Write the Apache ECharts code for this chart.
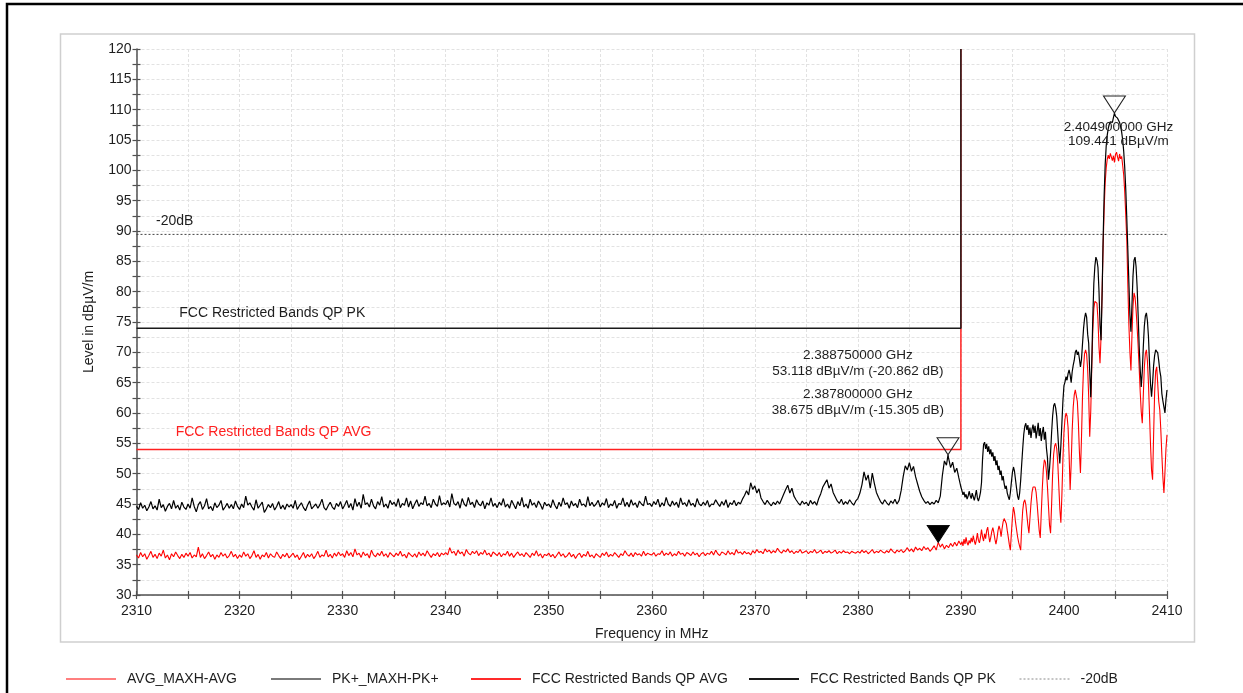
<!DOCTYPE html>
<html>
<head>
<meta charset="utf-8">
<title>Restricted band edge emissions 2310-2410 MHz</title>
<script src="https://cdn.jsdelivr.net/npm/echarts@6/dist/echarts.min.js"></script>
<style>
  html, body { margin: 0; padding: 0; background: #fff; }
  #chart { width: 1243px; height: 693px; }
</style>
</head>
<body>
<div id="chart"></div>
<script>
// Sweep grids: coarse part up to the band edge, fine part across the carrier.
const lowStart = 2310, lowStep = 0.2;    // 2310.0 ... 2390.0 (401 points)
const highStart = 2390.1, highStep = 0.1; // 2390.1 ... 2410.0 (200 points)

// PK+ max-hold trace, dBµV/m
const pkLow = [
  44.6,44.1,45.2,44.3,44.8,43.9,44.5,45.4,44.2,44.7,44.0,45.8,44.4,44.9,43.8,44.6,45.1,44.2,45.6,44.3,44.8,44.0,45.3,44.5,44.1,
  45.0,44.3,46.0,44.6,43.7,44.9,45.4,44.1,44.7,45.9,44.2,44.6,43.9,45.2,44.4,44.8,45.6,44.0,44.5,45.1,44.3,44.9,44.2,45.5,44.6,
  44.1,45.0,44.4,46.3,44.8,45.2,44.5,44.0,45.7,44.3,44.8,45.3,43.6,44.2,44.9,44.4,45.1,44.0,44.6,45.4,44.2,44.8,44.1,45.0,44.5,
  44.9,44.3,45.6,44.1,44.7,45.2,44.4,43.9,44.8,45.5,44.2,44.6,45.0,44.3,44.9,45.8,44.4,44.0,44.7,45.3,44.5,44.1,45.1,44.6,45.4,
  44.2,44.8,45.6,44.4,45.1,44.0,45.9,44.6,45.3,44.3,46.6,44.9,45.2,44.5,45.8,44.7,44.2,45.4,44.8,46.2,44.5,45.0,44.3,45.6,44.9,
  45.3,44.6,45.9,44.4,45.1,44.8,46.0,44.5,45.5,44.2,45.0,45.7,44.6,45.2,44.9,46.3,44.7,45.1,44.4,45.8,45.0,44.6,46.4,44.8,45.2,
  44.9,45.6,44.5,46.7,45.1,44.8,45.4,44.3,45.9,45.0,44.6,46.1,44.9,45.3,44.4,45.7,45.0,44.7,45.5,44.2,45.2,44.8,46.0,44.6,45.1,
  44.4,45.3,44.8,45.9,44.5,45.0,44.3,45.6,44.9,44.2,45.4,44.7,46.1,44.5,45.0,44.3,45.8,44.8,45.2,44.4,45.5,44.9,44.1,45.3,44.7,
  45.0,44.4,45.7,44.8,44.2,45.3,44.6,46.0,44.9,45.2,44.3,45.5,44.7,45.1,44.4,45.8,44.8,45.0,44.5,46.2,44.7,45.3,44.6,45.0,45.6,
  44.5,45.2,44.8,45.9,44.4,45.0,44.7,45.6,44.3,45.1,44.9,46.0,44.6,45.3,44.5,45.7,44.8,45.2,44.4,45.5,45.0,44.7,46.3,44.9,45.1,
  44.6,45.4,44.9,45.8,44.5,45.2,44.7,46.1,45.0,44.6,45.5,44.8,45.3,44.4,46.0,44.9,45.2,44.6,45.7,44.8,45.1,44.5,45.9,45.0,44.7,
  45.3,44.8,45.6,44.5,45.0,44.9,45.7,45.1,44.6,45.4,44.8,45.7,44.4,45.2,44.9,45.6,44.7,45.3,45.0,45.8,46.4,47.2,46.5,48.5,47.4,
  48.0,46.8,47.5,46.0,45.4,44.9,45.6,45.1,44.7,45.3,44.9,45.5,45.0,45.8,46.6,47.4,48.1,46.8,47.6,46.3,45.7,45.2,44.8,45.5,45.0,
  45.3,44.7,45.6,45.0,45.4,44.8,45.9,46.7,47.8,48.4,49.0,47.6,48.3,46.9,46.2,45.5,45.1,45.8,44.9,45.4,45.0,45.7,45.2,44.8,45.5,
  45.9,46.8,48.2,50.3,48.9,49.8,47.6,50.1,48.4,46.9,46.1,45.4,45.0,45.7,45.2,44.8,45.5,45.1,45.8,45.0,45.6,47.2,49.5,51.3,50.6,
  51.8,50.4,51.2,49.5,48.3,47.1,46.2,45.6,45.1,45.4,44.9,45.3,45.0,45.6,45.2,46.3,49.7,52.1,51.4,52.6,51.0,51.9,50.2,50.9,49.3,
  47.8
];
const pkHigh = [
  47.2,46.5,47.0,46.1,46.6,45.8,46.3,47.1,46.4,45.9,
  46.8,46.2,45.6,46.4,47.3,46.0,45.5,46.1,46.9,48.5,
  52.4,54.8,55.2,54.1,54.9,53.6,54.5,53.2,54.0,52.8,
  53.5,52.1,52.9,51.4,52.2,50.6,51.3,49.8,50.5,48.9,
  49.6,48.3,47.5,48.0,46.8,46.2,45.7,46.9,48.6,50.2,
  51.1,50.4,49.0,47.6,46.3,45.7,46.8,48.9,51.6,54.2,
  56.5,57.8,58.3,57.2,58.0,56.4,57.6,55.9,57.3,58.1,
  56.7,57.9,55.8,57.0,58.4,56.2,57.5,55.4,56.8,57.7,
  55.6,56.9,54.2,52.6,49.0,50.8,53.4,56.7,59.5,61.2,
  61.6,60.8,59.4,56.7,53.9,51.7,54.6,58.3,62.0,64.5,
  65.1,66.0,65.4,66.5,67.1,66.3,65.0,66.8,67.9,68.7,
  70.0,70.4,69.6,70.1,68.9,67.6,68.8,71.4,73.9,75.6,
  76.5,75.8,73.0,71.5,66.8,62.6,68.5,75.8,81.4,84.2,
  85.7,85.2,84.0,80.1,74.5,72.0,79.3,88.6,95.8,100.9,
  104.0,105.8,106.9,107.6,108.0,108.3,107.9,108.7,109.441,108.9,
  109.1,108.6,108.8,107.9,107.2,106.3,105.0,103.1,100.4,96.8,
  92.0,86.9,81.5,76.2,73.4,77.8,82.6,85.2,85.7,84.1,
  80.8,76.1,71.0,67.2,64.3,66.8,70.9,74.3,76.0,76.5,
  75.2,72.6,68.4,64.8,62.7,64.9,67.8,69.5,70.4,70.7,
  69.9,68.6,67.0,66.0,63.2,62.0,61.0,60.0,62.2,63.8
];

// AVG max-hold trace, dBµV/m
const avgLow = [
  36.6,36.1,37.0,36.3,36.8,35.9,36.5,37.2,36.2,36.7,36.0,36.9,36.4,37.4,36.1,36.6,35.8,36.8,36.3,37.1,36.5,36.0,36.7,36.2,36.9,
  36.4,37.0,36.1,36.6,36.3,37.9,36.2,36.8,36.0,36.5,37.1,36.3,36.7,35.9,36.6,36.2,37.0,36.4,36.8,36.1,36.5,37.2,36.3,36.7,36.0,
  36.6,36.2,37.1,36.4,36.8,36.0,36.5,37.3,36.2,36.7,35.9,36.6,36.3,37.0,36.1,36.8,36.4,36.2,37.1,36.5,36.0,36.7,36.3,36.9,36.1,
  36.5,36.9,36.2,36.6,35.8,36.4,37.0,36.1,36.7,36.3,36.8,36.0,36.5,37.2,36.2,36.6,36.4,37.4,36.3,36.7,36.1,36.9,36.4,37.1,36.5,
  36.8,36.2,37.3,36.5,37.0,36.3,37.6,36.6,36.9,36.2,37.1,36.5,36.8,36.1,37.4,36.6,36.3,36.9,36.5,37.2,36.4,36.8,36.2,37.0,36.6,
  36.3,36.9,36.5,37.2,36.4,36.7,36.1,37.0,36.6,36.3,36.8,36.2,37.1,36.5,36.9,36.4,37.3,36.7,36.2,36.8,36.5,37.0,36.3,36.9,36.6,
  37.0,36.6,37.8,36.9,37.2,36.5,37.4,36.8,37.1,36.4,37.5,36.9,36.6,37.2,36.8,37.3,36.5,37.0,36.7,37.4,36.6,36.9,36.3,37.1,36.8,
  36.5,37.0,36.3,36.8,36.6,37.2,36.4,36.9,36.2,36.7,37.1,36.5,36.8,36.3,37.0,36.6,36.2,36.9,36.5,37.3,36.4,36.8,36.1,36.7,36.5,
  36.9,36.3,36.7,36.1,36.6,37.1,36.4,36.8,36.2,36.5,37.0,36.3,36.7,36.0,36.6,36.9,36.2,36.7,36.4,37.2,36.3,36.6,36.1,36.8,36.5,
  36.2,36.9,36.5,37.1,36.3,36.7,36.4,37.0,36.6,36.2,36.8,36.5,37.3,36.7,36.4,36.9,36.3,37.0,36.6,36.8,36.4,37.2,36.5,36.9,36.7,
  36.6,37.0,36.4,36.8,36.7,37.3,36.5,36.9,36.6,37.1,36.4,36.8,36.5,37.2,36.7,36.9,36.4,37.0,36.8,36.5,37.1,36.6,36.9,36.3,36.8,
  37.0,36.5,36.9,36.7,37.2,36.6,37.4,36.8,36.5,37.1,36.9,36.6,37.3,36.7,37.0,36.6,37.5,36.9,37.1,36.7,37.2,36.8,37.0,36.6,37.3,
  36.9,37.5,37.0,37.2,36.8,37.6,37.1,37.4,36.9,37.3,37.0,37.7,37.2,36.9,37.4,37.1,37.6,37.0,37.3,36.8,37.2,37.0,37.5,36.9,37.1,
  37.3,36.8,37.2,37.0,37.5,36.9,37.1,37.4,36.8,37.2,37.0,37.3,36.9,37.1,37.4,36.8,37.2,36.9,37.3,37.0,37.1,36.8,37.2,37.0,36.9,
  37.2,36.9,37.4,37.0,37.3,36.8,37.1,37.5,36.9,37.2,37.0,37.4,37.1,36.9,37.3,37.0,37.6,37.2,36.9,37.4,37.1,37.5,37.0,37.3,37.8,
  37.2,37.6,37.1,37.9,37.4,37.7,37.3,38.0,37.5,37.8,37.2,37.6,38.1,37.4,38.675,37.9,38.4,37.6,38.2,37.8,38.5,38.0,38.7,38.1,38.9,
  38.3
];
const avgHigh = [
  38.8,38.1,39.2,38.4,39.5,38.6,38.2,39.0,38.5,39.4,
  38.7,39.8,38.9,38.3,39.1,40.2,39.0,38.6,39.5,40.8,
  39.6,38.9,40.1,39.3,40.6,41.2,39.8,38.7,39.5,40.5,
  41.1,40.3,39.2,38.4,39.3,40.6,41.4,40.8,39.6,41.0,
  42.1,42.6,42.9,41.8,40.6,39.5,38.3,37.4,40.2,42.8,
  44.5,43.6,42.0,40.8,39.6,38.7,38.0,37.4,41.2,44.0,
  45.3,45.7,44.9,43.2,41.5,40.2,42.6,45.1,46.9,47.8,
  47.6,47.8,46.9,45.0,42.7,40.6,39.4,43.5,47.6,50.8,
  52.3,51.9,50.4,47.8,44.6,41.5,40.2,44.8,49.9,53.2,
  54.6,55.0,54.1,51.8,48.0,44.2,41.9,46.5,52.4,56.8,
  59.0,60.0,59.5,57.6,53.1,47.3,51.6,57.2,61.0,63.0,
  63.8,63.5,61.9,58.4,53.6,50.1,55.8,62.7,67.4,69.8,
  70.4,69.7,67.2,62.8,56.1,60.3,67.5,73.6,77.2,78.4,
  78.6,78.1,75.4,70.9,68.2,72.6,79.8,87.4,93.6,97.9,
  100.4,101.8,102.5,101.9,102.8,103.1,101.6,102.4,101.3,102.6,
  103.0,102.2,101.5,102.7,101.9,102.3,100.8,99.2,96.4,92.5,
  88.5,81.0,74.6,70.1,67.0,72.8,77.6,79.8,79.1,77.0,
  74.2,71.0,67.4,63.5,60.2,58.3,62.9,67.5,69.8,70.4,
  68.6,64.9,60.0,54.8,50.6,49.0,56.3,63.4,66.9,67.6,
  64.8,61.9,60.5,57.2,53.1,49.4,46.8,50.2,54.1,56.4
];

// Limits and reference line
const bandEdge = 2390;
const limitPk = 73.98;
const limitAvg = 53.98;
const refOffset = -20;

// Markers: frequency (MHz), level (dBµV/m), trace
const markerFreq = [2404.9, 2388.75, 2387.8];
const markerLevel = [109.441, 53.118, 38.675];
const markerTrace = ['pk', 'pk', 'avg'];

// Axis ranges
const xMin = 2310, xMax = 2410, xStep = 10;
const yMin = 30, yMax = 120, yStep = 5;

const FONT = '"Liberation Sans", Arial, Helvetica, sans-serif';
const TXT = '#1e1e1e';
const AXIS = '#505050';
const GRIDC = '#e2e2e2';

function sweep(low, high) {
  const pts = [];
  low.forEach((v, i) => pts.push([+(lowStart + i * lowStep).toFixed(2), v]));
  high.forEach((v, i) => pts.push([+(highStart + i * highStep).toFixed(2), v]));
  return pts;
}
function placeMarker(pts, f, v) {
  const i = pts.findIndex(p => p[0] >= f);
  if (Math.abs(pts[i][0] - f) < 1e-9) pts[i][1] = v;
  else pts.splice(i, 0, [f, v]);
}

const pkTrace = sweep(pkLow, pkHigh);
const avgTrace = sweep(avgLow, avgHigh);
markerFreq.forEach((f, k) => placeMarker(markerTrace[k] === 'pk' ? pkTrace : avgTrace, f, markerLevel[k]));

const refLevel = +(markerLevel[0] + refOffset).toFixed(3);

function markerSymbol(k, filled) {
  return {
    coord: [markerFreq[k], markerLevel[k]],
    symbol: 'triangle',
    symbolSize: [22, 17],
    symbolRotate: 180,
    symbolOffset: [0, -8.5],
    itemStyle: filled
      ? { color: '#000', borderColor: '#000', borderWidth: 1 }
      : { color: 'rgba(255,255,255,0)', borderColor: '#222', borderWidth: 1 },
    label: { show: false }
  };
}

const pkMarks = [], avgMarks = [];
markerFreq.forEach((f, k) => {
  if (markerTrace[k] === 'pk') pkMarks.push(markerSymbol(k, false));
  else avgMarks.push(markerSymbol(k, true));
});

function axisPair(dim) {
  const isX = dim === 'x';
  const base = {
    type: 'value',
    min: isX ? xMin : yMin,
    max: isX ? xMax : yMax,
    interval: isX ? xStep : yStep,
    position: isX ? 'bottom' : 'left'
  };
  const main = Object.assign({}, base, {
    name: isX ? 'Frequency in MHz' : 'Level in dBµV/m',
    nameLocation: 'middle',
    nameGap: isX ? 32 : 40,
    nameTextStyle: { fontSize: 14, color: TXT, fontFamily: FONT },
    axisLine: { show: true, onZero: false, lineStyle: { color: AXIS, width: 1.5 } },
    axisTick: { show: true, inside: false, length: 4, lineStyle: { color: AXIS, width: 1.2 } },
    minorTick: { show: true, splitNumber: 2, length: 4, lineStyle: { color: AXIS, width: 1.2 } },
    axisLabel: { margin: isX ? 9 : 5, fontSize: 14, color: TXT, fontFamily: FONT,
                 formatter: v => String(v) },
    splitLine: { show: true, lineStyle: { color: GRIDC, type: [3, 2], width: 1 } },
    minorSplitLine: { show: true, lineStyle: { color: GRIDC, type: [3, 2], width: 1 } }
  });
  // second copy of the axis supplies the inner half of each tick
  const inner = Object.assign({}, base, {
    axisLine: { show: false },
    axisTick: { show: true, inside: true, length: 4, lineStyle: { color: AXIS, width: 1.2 } },
    minorTick: { show: true, splitNumber: 2, length: 4, lineStyle: { color: AXIS, width: 1.2 } },
    axisLabel: { show: false },
    splitLine: { show: false },
    minorSplitLine: { show: false }
  });
  return [main, inner];
}

const legendCommon = {
  orient: 'horizontal',
  top: 667,
  itemWidth: 50,
  itemHeight: 14,
  selectedMode: false,
  textStyle: { fontSize: 14, color: TXT, fontFamily: FONT, padding: [0, 0, 0, 6] }
};
const legendItems = [
  { name: 'AVG_MAXH-AVG', left: 60, lineStyle: { color: '#ff7f7f', width: 2 } },
  { name: 'PK+_MAXH-PK+', left: 265, lineStyle: { color: '#7a7a7a', width: 2 } },
  { name: 'FCC Restricted Bands QP AVG', left: 465, lineStyle: { color: '#ff2a2a', width: 2 } },
  { name: 'FCC Restricted Bands QP PK', left: 743, lineStyle: { color: '#1a1a1a', width: 2 } },
  { name: '-20dB', left: 1014, lineStyle: { color: '#8a8a8a', width: 1, type: [2, 2] } }
];

const option = {
  animation: false,
  backgroundColor: '#ffffff',
  textStyle: { fontFamily: FONT },
  grid: { left: 136.5, right: 76, top: 49, bottom: 98, containLabel: false, outerBoundsMode: 'none' },
  xAxis: axisPair('x'),
  yAxis: axisPair('y'),
  legend: legendItems.map(it => Object.assign({}, legendCommon, {
    left: it.left,
    data: [{
      name: it.name,
      lineStyle: it.lineStyle,
      // the line alone is the key; the centre symbol is hidden
      itemStyle: { color: 'rgba(0,0,0,0)', borderWidth: 0, opacity: 0 }
    }]
  })),
  series: [
    {
      name: 'FCC Restricted Bands QP AVG', type: 'line', xAxisIndex: 0, yAxisIndex: 0,
      data: [[xMin, limitAvg], [bandEdge, limitAvg], [bandEdge, yMax]],
      symbol: 'none', showSymbol: false, silent: true, z: 2,
      lineStyle: { color: '#ff2020', width: 1.5 }, itemStyle: { color: '#ff2020' }
    },
    {
      name: 'FCC Restricted Bands QP PK', type: 'line', xAxisIndex: 0, yAxisIndex: 0,
      data: [[xMin, limitPk], [bandEdge, limitPk], [bandEdge, yMax]],
      symbol: 'none', showSymbol: false, silent: true, z: 2,
      lineStyle: { color: '#1a1a1a', width: 1.5 }, itemStyle: { color: '#1a1a1a' }
    },
    {
      name: '-20dB', type: 'line', xAxisIndex: 0, yAxisIndex: 0,
      data: [[xMin, refLevel], [xMax, refLevel]],
      symbol: 'none', showSymbol: false, silent: true, z: 2,
      lineStyle: { color: '#444', width: 1, type: [2, 2] }, itemStyle: { color: '#444' }
    },
    {
      name: 'AVG_MAXH-AVG', type: 'line', xAxisIndex: 0, yAxisIndex: 0,
      data: avgTrace, symbol: 'none', showSymbol: false, silent: true, z: 3,
      lineStyle: { color: '#ff0000', width: 1.1 }, itemStyle: { color: '#ff0000' },
      markPoint: { silent: true, animation: false, data: avgMarks }
    },
    {
      name: 'PK+_MAXH-PK+', type: 'line', xAxisIndex: 0, yAxisIndex: 0,
      data: pkTrace, symbol: 'none', showSymbol: false, silent: true, z: 4,
      lineStyle: { color: '#000000', width: 1.2 }, itemStyle: { color: '#000000' },
      markPoint: { silent: true, animation: false, data: pkMarks }
    }
  ]
};

const chart = echarts.init(document.getElementById('chart'), null, { renderer: 'canvas' });
chart.setOption(option);

// Frames, line captions and marker readouts, placed from data coordinates
const at = (f, v) => chart.convertToPixel({ gridIndex: 0 }, [f, v]);
function text(x, y, str, opts) {
  return {
    type: 'text', x: x, y: y, silent: true, z: 10,
    style: Object.assign({
      text: str, fill: TXT, fontSize: 13.5, fontFamily: FONT,
      align: 'left', verticalAlign: 'middle'
    }, opts || {})
  };
}
const ghz = f => (f / 1000).toFixed(9) + ' GHz';
const lvl = v => v.toFixed(3) + ' dBµV/m';
const dlt = (v, lim) => ' (' + (v - lim).toFixed(3) + ' dB)';

const gfx = [
  { type: 'rect', silent: true, z: -1, shape: { x: 7, y: 4, width: 1300, height: 800 },
    style: { fill: 'none', stroke: '#000', lineWidth: 2.5 } },
  { type: 'rect', silent: true, z: -1, shape: { x: 60.5, y: 34, width: 1134, height: 608 },
    style: { fill: 'none', stroke: '#cfcfcf', lineWidth: 1.5 } }
];

let p = at(2311.9, refLevel);
gfx.push(text(p[0], p[1] - 13.5, '-20dB', { fontSize: 14 }));
p = at(2314.15, limitPk);
gfx.push(text(p[0], p[1] - 15.5, 'FCC Restricted Bands QP PK', { fontSize: 14 }));
p = at(2313.8, limitAvg);
gfx.push(text(p[0], p[1] - 17, 'FCC Restricted Bands QP AVG', { fill: '#ff2020', fontSize: 14 }));

// peak readout below its marker
p = at(markerFreq[0], markerLevel[0]);
gfx.push(text(p[0] + 4, p[1] + 14, ghz(markerFreq[0]), { align: 'center' }));
gfx.push(text(p[0] + 4, p[1] + 28.5, lvl(markerLevel[0]), { align: 'center' }));

// band-edge readouts, stacked below the PK limit line
const lims = { pk: limitPk, avg: limitAvg };
let q = at(2380, limitPk);
[1, 2].forEach((k, j) => {
  const y0 = q[1] + 27 + j * 39;
  gfx.push(text(q[0], y0, ghz(markerFreq[k]), { align: 'center' }));
  gfx.push(text(q[0], y0 + 16, lvl(markerLevel[k]) + dlt(markerLevel[k], lims[markerTrace[k]]), { align: 'center' }));
});

chart.setOption({ graphic: gfx });
</script>
</body>
</html>
